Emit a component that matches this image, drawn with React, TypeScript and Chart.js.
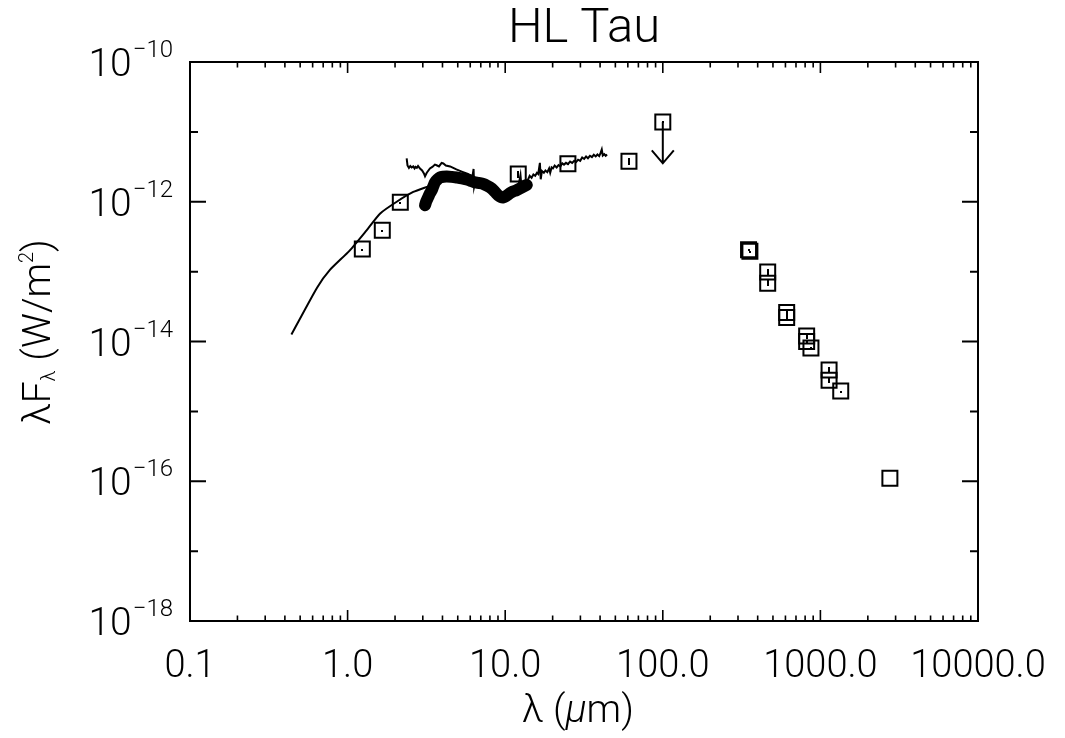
import React, { useEffect, useRef } from 'react';
import { Chart, registerables } from 'chart.js';

Chart.register(...registerables);

// ---------- data (wavelength in micron, lambda F_lambda in W/m^2) ----------
const modelWave = [0.44, 0.64, 0.77, 1.03, 1.32, 1.61, 2.05, 2.61, 3.25];
const modelFlux = [1.26e-14, 5.9e-14, 1.05e-13, 2.0e-13, 3.9e-13, 6.8e-13, 1.0e-12, 1.38e-12, 1.66e-12];

const specWave = [
  2.37, 2.40, 2.45, 2.50, 2.55, 2.61, 2.66, 2.70, 2.75, 2.80, 2.88, 2.97, 3.05, 3.10, 3.18, 3.33, 3.45,
  3.58, 3.67, 3.80, 3.95, 4.05, 4.20, 4.47, 4.90, 5.30, 5.80, 6.20, 6.30, 6.35, 6.50, 7.00, 7.70, 8.50,
  9.30, 10.0, 10.8, 11.5, 12.2, 12.5, 12.7, 13.3,
  14.0, 14.3, 14.7, 15.1, 15.5, 15.9, 16.2, 16.6, 16.8, 17.1, 17.6, 18.0, 18.5, 19.0, 19.3, 19.7, 20.1,
  20.6, 21.2, 21.8, 22.4, 23.0, 23.6, 24.3, 25.0, 25.8, 26.6, 27.4, 28.2, 29.0, 29.9, 30.8, 31.7, 32.6,
  33.5, 34.5, 35.5, 36.5, 37.5, 38.5, 39.5, 40.3, 41.0, 41.6, 42.5, 43.4, 44.3,
];
const specFlux = [
  4.17e-12, 3.3e-12, 3.05e-12, 3.25e-12, 3.1e-12, 3.2e-12, 3.0e-12, 3.15e-12, 3.05e-12, 3.25e-12,
  2.99e-12, 2.8e-12, 2.55e-12, 2.32e-12, 2.6e-12, 2.99e-12, 3.15e-12, 3.4e-12, 3.33e-12, 3.2e-12,
  3.6e-12, 3.53e-12, 3.3e-12, 3.2e-12, 2.9e-12, 2.7e-12, 2.5e-12, 2.3e-12, 2.95e-12, 1.65e-12, 2.1e-12,
  2.0e-12, 1.8e-12, 1.5e-12, 1.3e-12, 1.3e-12, 1.5e-12, 1.6e-12, 1.8e-12, 2.4e-12, 1.6e-12, 1.9e-12,
  2.1e-12, 2.35e-12, 2.2e-12, 2.45e-12, 2.35e-12, 2.6e-12, 2.5e-12, 3.6e-12, 2.1e-12, 2.75e-12, 2.6e-12,
  2.8e-12, 2.65e-12, 3.0e-12, 2.6e-12, 3.1e-12, 3.0e-12, 3.3e-12, 3.1e-12, 3.35e-12, 3.2e-12, 3.55e-12,
  3.4e-12, 3.6e-12, 3.45e-12, 3.75e-12, 3.6e-12, 3.85e-12, 3.7e-12, 4.0e-12, 3.85e-12, 4.3e-12, 4.1e-12,
  4.45e-12, 4.2e-12, 4.55e-12, 4.35e-12, 4.7e-12, 4.45e-12, 4.75e-12, 4.5e-12, 5.0e-12, 5.6e-12, 4.6e-12,
  4.8e-12, 4.55e-12, 4.75e-12,
];

const blobWave = [
  3.10, 3.16, 3.25, 3.33, 3.42, 3.51, 3.59, 3.72, 3.85, 4.05, 4.26, 4.57, 4.92, 5.31, 5.70, 6.03, 6.31,
  6.76, 7.26, 7.67, 8.20, 8.61, 9.04, 9.44, 9.73, 10.1, 10.7, 11.2, 11.8, 12.6, 13.7,
];
const blobFlux = [
  8.9e-13, 1.02e-12, 1.17e-12, 1.32e-12, 1.46e-12, 1.70e-12, 1.91e-12, 2.09e-12, 2.22e-12, 2.28e-12,
  2.30e-12, 2.27e-12, 2.22e-12, 2.16e-12, 2.08e-12, 2.0e-12, 1.92e-12, 1.86e-12, 1.80e-12, 1.70e-12,
  1.55e-12, 1.38e-12, 1.23e-12, 1.16e-12, 1.15e-12, 1.20e-12, 1.32e-12, 1.40e-12, 1.46e-12, 1.58e-12,
  1.74e-12,
];

const photWave = [1.24, 1.66, 2.16, 12.1, 25, 61, 350, 357, 463, 463, 611, 611, 818, 818, 871, 1135, 1135, 1346, 2760];
const photFlux = [
  2.1e-13, 3.9e-13, 9.8e-13, 2.5e-12, 3.5e-12, 3.8e-12, 2.05e-13, 1.95e-13, 9.9e-14, 6.8e-14, 2.6e-14,
  2.2e-14, 1.2e-14, 1.0e-14, 8.1e-15, 3.9e-15, 2.8e-15, 1.95e-15, 1.1e-16,
];
const photErr = [0.02, 0.02, 0.02, 0.12, 0.02, 0.12, 0.02, 0.02, 0.1, 0.1, 0.1, 0.1, 0.1, 0.02, 0.02, 0.1, 0.1, 0.02, 0.0];

const limitWave = [100];
const limitFlux = [1.38e-11];
const limitTip = [3.55e-12];

const xMin = 0.1;
const xMax = 10000;
const yMin = 1e-18;
const yMax = 1e-10;
const xTickValues = [0.1, 1, 10, 100, 1000, 10000];
const xTickLabels = ['0.1', '1.0', '10.0', '100.0', '1000.0', '10000.0'];
const minorMult = [2, 3, 4, 5, 6, 7, 8, 9];
const yDecades = [-18, -17, -16, -15, -14, -13, -12, -11, -10];
const yLabelExps = [-10, -12, -14, -16, -18];

const titleText = 'HL Tau';

const FONT = 'Roboto, "Liberation Sans", Arial, sans-serif';
const W = '300';

function pts(w: number[], f: number[]) {
  return w.map((x, i) => ({ x, y: f[i] }));
}

const idlAxes = {
  id: 'idlAxes',
  afterDraw(chart: any) {
    const { ctx, chartArea: a, scales } = chart;
    const xs = scales.x;
    const ys = scales.y;
    ctx.save();
    ctx.strokeStyle = '#000';
    ctx.fillStyle = '#000';

    // error bars inside squares
    photWave.forEach((w, i) => {
      const px = xs.getPixelForValue(w);
      const f = photFlux[i];
      const e = photErr[i];
      if (e <= 0) return;
      const y1 = ys.getPixelForValue(f * (1 + e));
      const y2 = ys.getPixelForValue(f * (1 - e));
      const top = Math.min(y1, y2);
      const h = Math.max(2, Math.abs(y2 - y1));
      ctx.fillRect(Math.round(px) - 1, Math.round(top), 2, Math.round(h));
    });

    // upper-limit arrows
    ctx.lineWidth = 2;
    limitWave.forEach((w, i) => {
      const px = xs.getPixelForValue(w);
      const y0 = ys.getPixelForValue(limitFlux[i]);
      const y1 = ys.getPixelForValue(limitTip[i]);
      ctx.beginPath();
      ctx.moveTo(px, y0);
      ctx.lineTo(px, y1);
      ctx.moveTo(px - 11, y1 - 13);
      ctx.lineTo(px, y1);
      ctx.lineTo(px + 11, y1 - 13);
      ctx.stroke();
      ctx.fillRect(Math.round(px) - 1, Math.round(y0) - 1, 2, 2);
    });

    // frame
    ctx.lineWidth = 2;
    ctx.strokeRect(a.left, a.top, a.right - a.left, a.bottom - a.top);

    // x ticks (bottom and top, inward)
    ctx.lineWidth = 1.6;
    ctx.beginPath();
    xTickValues.forEach((d) => {
      const px = xs.getPixelForValue(d);
      ctx.moveTo(px, a.bottom);
      ctx.lineTo(px, a.bottom - 11);
      ctx.moveTo(px, a.top);
      ctx.lineTo(px, a.top + 11);
      if (d < xMax) {
        minorMult.forEach((m) => {
          const mx = xs.getPixelForValue(d * m);
          ctx.moveTo(mx, a.bottom);
          ctx.lineTo(mx, a.bottom - 5.5);
          ctx.moveTo(mx, a.top);
          ctx.lineTo(mx, a.top + 5.5);
        });
      }
    });
    ctx.stroke();

    // y ticks (left and right, inward)
    ctx.lineWidth = 2;
    ctx.beginPath();
    yDecades.forEach((e) => {
      const py = ys.getPixelForValue(Math.pow(10, e));
      const len = e % 2 === 0 ? 16 : 8;
      ctx.moveTo(a.left, py);
      ctx.lineTo(a.left + len, py);
      ctx.moveTo(a.right, py);
      ctx.lineTo(a.right - len, py);
    });
    ctx.stroke();

    // x tick labels
    ctx.font = `${W} 38px ${FONT}`;
    ctx.textAlign = 'center';
    ctx.textBaseline = 'alphabetic';
    xTickValues.forEach((d, i) => {
      const px = xs.getPixelForValue(d);
      ctx.fillText(xTickLabels[i], px, a.bottom + 56);
    });

    // y tick labels 10^n
    yLabelExps.forEach((e) => {
      const py = ys.getPixelForValue(Math.pow(10, e));
      const expStr = '\u2212' + String(Math.abs(e));
      ctx.font = `${W} 24px ${FONT}`;
      const ew = ctx.measureText(expStr).width;
      const right = a.left - 17;
      ctx.textAlign = 'left';
      ctx.fillText(expStr, right - ew, py - 5);
      ctx.font = `${W} 39px ${FONT}`;
      ctx.textAlign = 'right';
      ctx.fillText('10', right - ew - 1, py + 14);
    });

    // title
    ctx.font = `${W} 49px ${FONT}`;
    ctx.textAlign = 'center';
    ctx.fillText(titleText, (a.left + a.right) / 2, 42);

    // x axis title: λ (μm)
    {
      const parts = [
        { t: '\u03bb (', f: `${W} 39px ${FONT}` },
        { t: '\u03bc', f: `italic ${W} 39px ${FONT}` },
        { t: 'm)', f: `${W} 39px ${FONT}` },
      ];
      let total = 0;
      parts.forEach((p) => {
        ctx.font = p.f;
        total += ctx.measureText(p.t).width;
      });
      let x = 578 - total / 2;
      ctx.textAlign = 'left';
      parts.forEach((p) => {
        ctx.font = p.f;
        ctx.fillText(p.t, x, 722);
        x += ctx.measureText(p.t).width;
      });
    }

    // y axis title: λF_λ (W/m²)
    {
      ctx.save();
      ctx.translate(50, 332);
      ctx.rotate(-Math.PI / 2);
      const parts = [
        { t: '\u03bbF', f: `${W} 39px ${FONT}`, dy: 0 },
        { t: '\u03bb', f: `${W} 20px ${FONT}`, dy: 5 },
        { t: ' (W/m', f: `${W} 39px ${FONT}`, dy: 0 },
        { t: '2', f: `${W} 20px ${FONT}`, dy: -17 },
        { t: ')', f: `${W} 39px ${FONT}`, dy: 0 },
      ];
      let total = 0;
      parts.forEach((p) => {
        ctx.font = p.f;
        total += ctx.measureText(p.t).width;
      });
      let x = -total / 2;
      ctx.textAlign = 'left';
      parts.forEach((p) => {
        ctx.font = p.f;
        ctx.fillText(p.t, x, p.dy);
        x += ctx.measureText(p.t).width;
      });
      ctx.restore();
    }

    ctx.restore();
  },
};

export default function App() {
  const ref = useRef<HTMLCanvasElement | null>(null);

  useEffect(() => {
    if (!ref.current) return;
    const chart = new Chart(ref.current, {
      type: 'scatter',
      data: {
        datasets: [
          {
            label: 'photometry',
            data: pts(photWave, photFlux),
            pointStyle: 'rect',
            pointRadius: 10.6,
            borderColor: '#000',
            borderWidth: 2,
            backgroundColor: 'rgba(0,0,0,0)',
            showLine: false,
          },
          {
            label: 'upper limit',
            data: pts(limitWave, limitFlux),
            pointStyle: 'rect',
            pointRadius: 10.6,
            borderColor: '#000',
            borderWidth: 2,
            backgroundColor: 'rgba(0,0,0,0)',
            showLine: false,
          },
          {
            label: 'spectrum',
            data: pts(specWave, specFlux),
            showLine: true,
            borderColor: '#000',
            borderWidth: 2,
            pointRadius: 0,
            tension: 0,
          },
          {
            label: 'spectrum (binned)',
            data: pts(blobWave, blobFlux),
            showLine: true,
            borderColor: '#000',
            borderWidth: 12,
            borderCapStyle: 'round',
            borderJoinStyle: 'round',
            pointRadius: 0,
            tension: 0.3,
          },
          {
            label: 'model',
            data: pts(modelWave, modelFlux),
            showLine: true,
            borderColor: '#000',
            borderWidth: 2,
            pointRadius: 0,
            tension: 0.2,
          },
        ],
      },
      options: {
        animation: false,
        responsive: false,
        devicePixelRatio: 1,
        layout: { padding: { left: 190, top: 62, right: 87, bottom: 117 } },
        plugins: { legend: { display: false }, tooltip: { enabled: false }, title: { display: false } },
        scales: {
          x: { type: 'logarithmic', min: xMin, max: xMax, display: false },
          y: { type: 'logarithmic', min: yMin, max: yMax, display: false },
        },
      } as any,
      plugins: [idlAxes],
    });
    return () => chart.destroy();
  }, []);

  return (
    <div style={{ position: 'absolute', left: 0, top: 0, width: 1065, height: 738, background: '#fff' }}>
      <canvas ref={ref} width={1065} height={738} style={{ display: 'block', width: 1065, height: 738 }} />
    </div>
  );
}
